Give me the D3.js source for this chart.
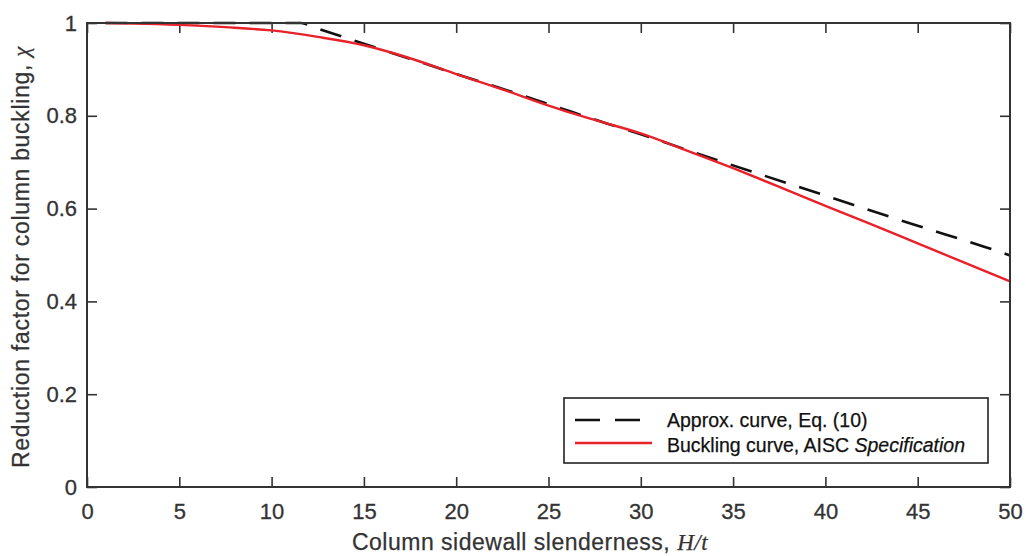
<!DOCTYPE html>
<html>
<head>
<meta charset="utf-8">
<script src="https://cdn.jsdelivr.net/npm/d3@7"></script>
<style>
  html, body { margin: 0; padding: 0; background: #fff; }
  svg { display: block; font-family: "Liberation Sans", Arial, Helvetica, sans-serif; }
</style>
</head>
<body>
<svg id="chart" width="1026" height="556"></svg>
<script>
// ---- data ----
const xTicks = [0, 5, 10, 15, 20, 25, 30, 35, 40, 45, 50];
const yTicks = [0, 0.2, 0.4, 0.6, 0.8, 1];
const yTickLabels = ["0", "0.2", "0.4", "0.6", "0.8", "1"];

// Approx. curve, Eq. (10)
const approxX = [1, 5, 10, 11.6, 12.2, 14.25, 18.26, 20.33, 22.37, 24.4, 26.29, 28.28, 30, 34.4, 40, 45, 48.6, 50];
const approxY = [1, 1, 1, 1, 0.992, 0.965, 0.913, 0.886, 0.860, 0.833, 0.808, 0.782, 0.760, 0.701, 0.628, 0.563, 0.518, 0.499];

// Buckling curve, AISC Specification
const aiscX = [1, 2.5, 5, 7.5, 10, 12.5, 15, 17.5, 20, 22.5, 25, 27.5, 30, 32.5, 35, 37.5, 40, 42.5, 45, 47.5, 50];
const aiscY = [1, 0.999, 0.996, 0.991, 0.984, 0.970, 0.952, 0.924, 0.890, 0.857, 0.822, 0.791, 0.762, 0.725, 0.687, 0.647, 0.606, 0.566, 0.525, 0.484, 0.443];

const legendLabels = ["Approx. curve, Eq. (10)", "Buckling curve, AISC "];

// ---- layout ----
const W = 1026, H = 556;
const m = { left: 87, top: 23, right: 16, bottom: 69 };
const iw = W - m.left - m.right, ih = H - m.top - m.bottom;

const svg = d3.select("#chart");
const g = svg.append("g").attr("transform", `translate(${m.left},${m.top})`);

const x = d3.scaleLinear().domain([0, 50]).range([0, iw]);
const y = d3.scaleLinear().domain([0, 1]).range([ih, 0]);

const axisColor = "#333";
const tickFont = "22px";

// bottom axis
const bx = g.append("g").attr("transform", `translate(0,${ih})`)
  .call(d3.axisBottom(x).tickValues(xTicks).tickFormat(d3.format("d"))
    .tickSizeInner(-10).tickSizeOuter(0).tickPadding(16));
// left axis
const ly = g.append("g")
  .call(d3.axisLeft(y).tickValues(yTicks).tickFormat((d, i) => yTickLabels[i])
    .tickSizeInner(-10).tickSizeOuter(0).tickPadding(10));
// top axis (ticks only)
const tx = g.append("g")
  .call(d3.axisTop(x).tickValues(xTicks).tickFormat("")
    .tickSizeInner(-10).tickSizeOuter(0));
// right axis (ticks only)
const ry = g.append("g").attr("transform", `translate(${iw},0)`)
  .call(d3.axisRight(y).tickValues(yTicks).tickFormat("")
    .tickSizeInner(-10).tickSizeOuter(0));

[bx, ly, tx, ry].forEach(a => {
  a.select(".domain").remove();
  a.selectAll(".tick line").attr("stroke", axisColor).attr("stroke-width", 1.6);
  a.selectAll(".tick text").attr("fill", axisColor).style("font-size", tickFont)
    .attr("stroke", axisColor).attr("stroke-width", 0.3)
    .style("font-family", '"Liberation Sans", Arial, Helvetica, sans-serif');
});

// curves
const approxData = approxX.map((d, i) => [d, approxY[i]]);
const aiscData = aiscX.map((d, i) => [d, aiscY[i]]);

const line = d3.line().x(d => x(d[0])).y(d => y(d[1])).curve(d3.curveMonotoneX);

g.append("path").datum(approxData)
  .attr("fill", "none").attr("stroke", "#111").attr("stroke-width", 2.6)
  .attr("stroke-dasharray", "22,14")
  .attr("d", line);

g.append("path").datum(aiscData)
  .attr("fill", "none").attr("stroke", "#e8212b").attr("stroke-width", 2.4)
  .attr("d", line);

// box
g.append("rect").attr("x", 0).attr("y", 0).attr("width", iw).attr("height", ih)
  .attr("fill", "none").attr("stroke", axisColor).attr("stroke-width", 2);

// axis titles
svg.append("text")
  .attr("x", 530).attr("y", 550)
  .attr("text-anchor", "middle").attr("fill", axisColor)
  .attr("stroke", axisColor).attr("stroke-width", 0.25)
  .style("font-size", "23px").style("letter-spacing", "0.5px")
  .html('Column sidewall slenderness, <tspan font-family="Liberation Serif, Times New Roman, serif" font-style="italic">H/t</tspan>');

svg.append("text")
  .attr("transform", `translate(29,${m.top + ih / 2 + 2}) rotate(-90)`)
  .attr("text-anchor", "middle").attr("fill", axisColor)
  .attr("stroke", axisColor).attr("stroke-width", 0.25)
  .style("font-size", "23px").style("letter-spacing", "0.7px")
  .html('Reduction factor for column buckling, <tspan font-family="Liberation Serif, Times New Roman, serif" font-style="italic">χ</tspan>');

// legend
const lg = svg.append("g");
lg.append("rect").attr("x", 564).attr("y", 398).attr("width", 424).attr("height", 65)
  .attr("fill", "#fff").attr("stroke", "#222").attr("stroke-width", 1.6);

lg.append("line").attr("x1", 575).attr("x2", 652).attr("y1", 420).attr("y2", 420)
  .attr("stroke", "#111").attr("stroke-width", 2.4).attr("stroke-dasharray", "25,15");
lg.append("line").attr("x1", 575).attr("x2", 652).attr("y1", 443).attr("y2", 443)
  .attr("stroke", "#e8212b").attr("stroke-width", 2.4);

lg.append("text").attr("x", 667).attr("y", 427).attr("fill", "#111")
  .attr("stroke", "#111").attr("stroke-width", 0.25)
  .style("font-size", "19.5px").text(legendLabels[0]);
const t2 = lg.append("text").attr("x", 667).attr("y", 452).attr("fill", "#111")
  .attr("stroke", "#111").attr("stroke-width", 0.25)
  .style("font-size", "19.5px");
t2.append("tspan").text(legendLabels[1]);
t2.append("tspan").attr("font-style", "italic").text("Specification");
</script>
</body>
</html>
